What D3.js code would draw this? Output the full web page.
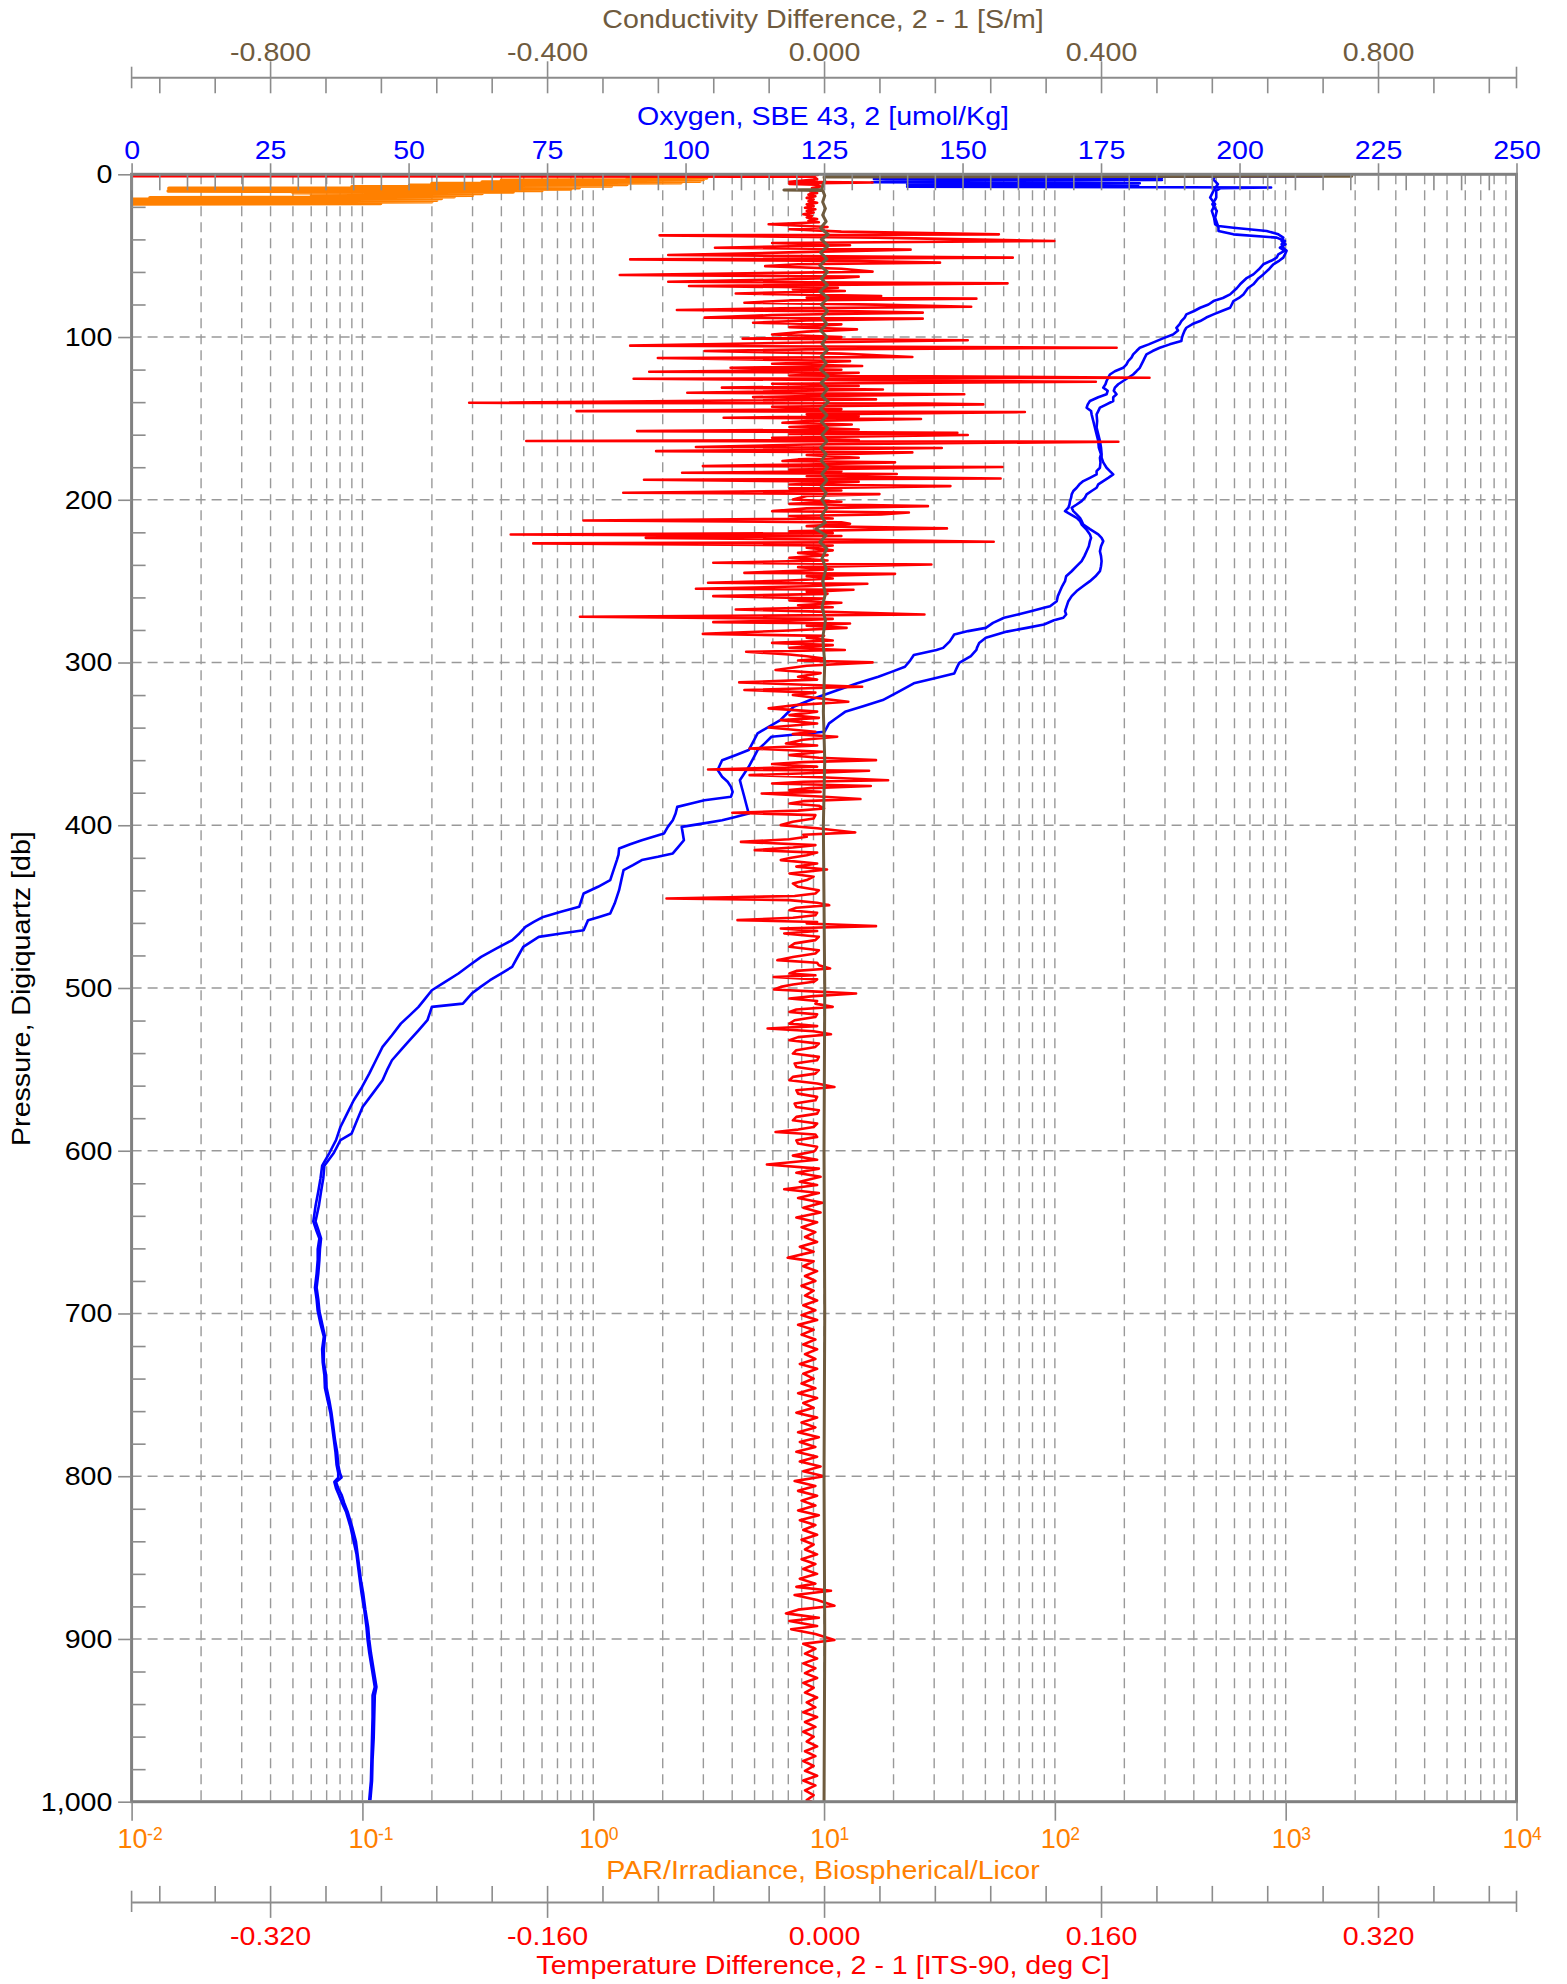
<!DOCTYPE html>
<html>
<head>
<meta charset="utf-8">
<script src="https://cdn.jsdelivr.net/npm/d3@7"></script>
<style>
  body { margin: 0; background: #fff; }
</style>
</head>
<body>
<div id="chart"></div>
<script>

// ---- tick labels / axis values
const presTicks = [0, 100, 200, 300, 400, 500, 600, 700, 800, 900, 1000];
const oxyTicks = [0, 25, 50, 75, 100, 125, 150, 175, 200, 225, 250];
const condTicks = [-0.8, -0.4, 0, 0.4, 0.8];
const tempTicks = [-0.32, -0.16, 0, 0.16, 0.32];
const parExp = [-2, -1, 0, 1, 2, 3, 4];

// ---- data: [pressure db, value]
const parData = [
  [0.3,3.0],[0.8,2.2],[1.3,3.1],[1.8,1.6],[2.3,3.1],[2.8,1.4],[3.2,3.0],[3.7,0.4],[4.2,2.9],[4.7,0.33],
  [5.2,2.4],[5.7,0.2],[6.2,1.4],[6.7,0.16],[7.2,1.2],[7.7,0.09],[8.2,0.87],[8.6,0.0145],[9.1,0.8],[9.5,0.03],
  [9.9,0.6],[10.3,0.0144],[10.8,0.45],[11.3,0.05],[11.8,0.33],[12.3,0.06],[12.8,0.3],[13.3,0.07],[13.8,0.25],
  [14.4,0.012],[14.9,0.22],[15.4,0.008],[15.9,0.21],[16.4,0.009],[16.9,0.2],[17.4,0.027],[17.9,0.12],[18.3,0.006]
];

const oxyA = [
  [0.8,195.8],[3,195.2],[6,196.1],[10.2,195.3],[14.3,194.7],[18.4,195.6],[22.5,195.0],[26.6,195.4],[30.7,195.6],
  [31.8,196.2],[32.8,198.9],[34.8,204.9],[36.9,207.0],[38.9,207.9],[41,207.6],[43,208.3],[45.1,207.3],[47,208.1],
  [49.2,207.0],[51.2,206.7],[53,205.8],[55.3,204.3],[58,203.6],[61.5,202.5],[64,201.2],[67.6,200.1],[70,199.5],
  [73.8,198.3],[76,197.0],[77.9,195.3],[80,194.4],[82,192.9],[84,191.8],[86.1,190.4],[88,190.1],[90.2,189.5],
  [92,189.2],[94.3,188.6],[96,188.9],[98.4,188.0],[100.5,186.4],[102.5,185.0],[104.5,183.6],[106.6,182.0],
  [108.6,181.4],[110.7,180.8],[112.7,180.5],[114.8,179.9],[116.8,179.6],[118.9,179.0],[121,177.5],[123,176.6],
  [125,176.3],[127,176.0],[129,175.8],[131.1,175.4],[133,176.2],[135.2,176.0],[137,174.5],[139.3,173.0],
  [141.4,172.6],[143.4,172.4],[145.5,173.2],[147.5,173.3],[151.6,173.6],[155.7,173.9],[159.8,174.2],[163.9,174.5],
  [168,174.6],[172,175.0],[174.2,174.8],[177,174.9],[180.3,174.8],[182.4,174.2],[184.4,174.2],[186.5,173.0],
  [188.5,171.8],[190.5,171.1],[192.6,170.6],[194.6,170.0],[196.7,169.7],[198.7,169.6],[200.8,169.4],[202.9,169.3],
  [204.9,169.1],[207,168.5],[209,169.5],[211.1,170.6],[213,171.2],[215.2,171.5],[218,172.3],[221.3,173.0],
  [223.4,173.2],[225.4,173.0],[228.5,172.8],[231.6,172.4],[234.6,172.0],[237.7,171.5],[240.8,170.6],[243.9,169.7],
  [247,168.7],[250,168.5],[253,168.0],[256.1,167.6],[259.2,167.2],[262.3,167.0],[265.4,165.8],[266.4,164.7],
  [268.4,162.5],[270.5,160.0],[272.5,157.5],[275.6,155.5],[278.7,154.2],[280.7,151.0],[282.8,148.5],[287,147.7],
  [291,146.5],[292.3,145.3],[295.4,141.2],[299,140.5],[302.6,139.6],[305.6,137.3],[308.7,134.8],[312.8,131.0],
  [316.9,127.5],[322,123.3],[327.2,119.5],[331.3,118.3],[335.4,117.1],[339.5,115.0],[343.6,113.0],[348.7,112.2],
  [353.8,111.4],[357,109.0],[360,106.6],[363,106.2],[366.1,105.8],[370.2,106.6],[373.3,107.6],[376.4,108.2],
  [379.5,108.5],[382.5,108.2],[384.6,103.4],[386.6,101.0],[388.7,98.5],[392.8,98.2],[396.9,97.7],[401,96.8],
  [405.1,96.1],[409.2,92.1],[411.7,90.0],[414.3,88.0],[418,87.9],[421.4,87.6],[427.6,87.0],[433.7,86.4],
  [437.8,84.2],[441.9,81.6],[446,81.2],[450.1,80.8],[453.2,77.5],[456.3,74.3],[459.4,72.6],[462.4,71.1],
  [466.5,70.0],[470.6,68.7],[475.8,65.8],[480.9,63.1],[486,61.0],[491.1,59.0],[496.2,56.6],[501.4,54.2],
  [506.5,53.0],[511.6,51.8],[516.8,50.2],[521.9,48.6],[529,47.0],[536.2,45.3],[544.4,44.1],[552.6,42.9],
  [560.8,41.6],[569,40.1],[577.2,38.9],[585.4,37.7],[593.5,36.9],[601.4,35.7],[609.2,34.4],[617,34.1],[625,33.7],
  [634,33.2],[643.4,32.8],[648.5,33.3],[653.9,33.9],[660.5,33.6],[667,33.6],[675.5,33.4],[684.1,33.1],[691.3,33.4],
  [698.5,33.6],[706.4,34.1],[714.2,34.7],[722,34.4],[730,34.5],[737.8,34.8],[745.7,34.9],[753.6,35.4],[761.5,35.9],
  [769.3,36.2],[777.2,36.5],[785.1,36.8],[793,37.0],[798,37.3],[800.8,37.3],[803.5,36.6],[807.4,36.9],[811.4,37.4],
  [816.6,38.0],[821.8,38.7],[831,39.5],[840.2,40.1],[848,40.6],[856,40.9],[864,41.2],[871.7,41.5],[882,42.0],
  [892.7,42.4],[900.6,42.6],[908.5,42.9],[919,43.4],[929.5,43.9],[934.7,43.5],[948,43.5],[961,43.4],[974,43.3],
  [987.2,43.2],[999,42.9]
];

const oxyB = [
  [0.3,186.0],[0.6,135.5],[1.2,215.0],[1.6,140.0],[2.3,186.0],[2.9,134.0],[3.5,186.0],[4.1,140.0],[4.9,133.6],
  [5.5,182.0],[6.2,140.0],[7.0,181.7],[7.6,140.0],[8.1,205.7],[8.6,196.5],[10,195.8],[14.3,195.8],[18.4,195.1],
  [22.5,195.9],[26.6,195.6],[30.7,196.0],[32.8,196.2],[34.8,196.2],[36.9,198.9],[38.9,206.7],[41,208.2],[43,207.6],
  [45.1,207.9],[47,208.5],[49.2,208.2],[51.2,207.9],[53,207.2],[55.3,206.1],[58,205.4],[61.5,204.3],[64,203.4],
  [67.6,202.5],[70,201.5],[73.8,200.7],[76,199.9],[77.9,198.9],[80,198.6],[82,198.3],[84,196.8],[86.1,195.3],
  [88,194.0],[90.2,192.9],[92,191.5],[94.3,190.4],[96,190.1],[98.4,189.8],[100.5,189.6],[102.5,189.5],[104.5,187.4],
  [106.6,185.6],[108.6,184.3],[110.7,183.2],[112.7,182.9],[114.8,182.6],[116.8,182.3],[118.9,182.0],[121,181.4],
  [123,180.8],[125,179.9],[127,179.0],[129,178.1],[131.1,177.5],[133,177.3],[135.2,177.8],[137,177.2],[139.3,177.2],
  [141.4,176.0],[143.4,174.8],[145.5,174.5],[147.5,174.2],[151.6,174.3],[155.7,174.2],[159.8,174.5],[163.9,174.8],
  [168,175.0],[172,175.1],[174.2,175.1],[177,175.4],[180.3,176.0],[182.4,176.6],[184.4,177.2],[186.5,176.3],
  [188.5,175.4],[190.5,174.5],[192.6,174.2],[194.6,173.3],[196.7,172.4],[198.7,172.1],[200.8,171.5],[202.9,170.6],
  [204.9,169.7],[207,170.0],[209,170.6],[211.1,171.2],[213,171.5],[215.2,171.8],[218,173.0],[221.3,174.5],
  [223.4,175.1],[225.4,175.4],[228.5,175.0],[231.6,174.8],[234.6,175.0],[237.7,175.1],[240.8,175.0],[243.9,174.8],
  [247,174.0],[250,173.0],[253,171.8],[256.1,170.6],[259.2,169.7],[262.3,169.1],[265.4,168.8],[268.4,168.5],
  [270.5,168.7],[272.5,168.2],[274,166.5],[276.6,164.7],[278.7,161.6],[281,158.0],[284.8,154.2],[288,153.0],
  [291,152.6],[292.3,152.5],[296,151.5],[300.2,149.4],[303,149.0],[306.7,148.5],[309.7,145.0],[312.8,141.2],
  [318,138.4],[323.1,135.6],[326.7,132.2],[330.3,128.8],[333.9,127.3],[337.4,125.9],[340,125.5],[342.5,125.1],
  [345.6,115.5],[349.7,114.3],[353.8,113.0],[359,112.2],[364.1,111.4],[368.2,110.6],[372.3,109.8],[377.4,110.2],
  [382.5,110.6],[387.7,111.0],[392.8,111.4],[394.9,109.0],[396.9,106.6],[399,103.0],[401,99.3],[405.1,99.5],
  [409.2,99.7],[413.3,98.7],[417.3,97.7],[419.4,95.0],[421.4,92.1],[424.5,90.5],[427.6,88.8],[433.7,88.4],
  [439.9,88.0],[444,87.6],[448.1,87.2],[451.2,86.8],[454.2,86.4],[456.3,84.4],[458.3,82.4],[461.4,82.0],
  [464.5,81.6],[466.5,77.5],[468.6,73.5],[471.6,72.1],[474.7,70.7],[480.8,69.7],[487,68.7],[491.1,66.7],
  [495.2,64.7],[499.3,63.0],[503.4,61.4],[506.5,60.6],[509.6,59.8],[511.6,54.2],[515.7,53.8],[519.8,53.4],
  [526,51.8],[532.1,50.2],[538.2,48.6],[544.4,47.0],[550.5,46.1],[556.7,45.3],[564.9,43.5],[573.1,41.7],
  [581.3,40.7],[589.5,39.7],[593.5,37.7],[601.4,36.5],[609.2,34.8],[617,34.6],[625,34.2],[634,33.8],[643.4,33.2],
  [648.5,33.7],[653.9,34.2],[660.5,34.0],[667,33.9],[675.5,33.7],[684.1,33.4],[691.3,33.7],[698.5,33.9],
  [706.4,34.4],[714.2,34.9],[722,34.7],[730,34.7],[737.8,35.1],[745.7,35.2],[753.6,35.7],[761.5,36.1],[769.3,36.4],
  [777.2,36.7],[785.1,37.1],[793,37.3],[798,37.6],[800.8,37.9],[803.5,36.9],[807.4,37.3],[811.4,37.9],[816.6,38.4],
  [821.8,39.0],[831,39.8],[840.2,40.5],[848,40.8],[856,41.1],[864,41.4],[871.7,41.8],[882,42.2],[892.7,42.7],
  [900.6,42.9],[908.5,43.2],[919,43.7],[929.5,44.2],[934.7,43.9],[948,43.8],[961,43.7],[974,43.5],[987.2,43.4],
  [999,43.1]
];

const tempDiff = [
  [0.3,-0.003],[0.6,-0.005],[1.1,-0.42],[1.5,-0.006],[3,-0.004],[4.6,-0.02],[5.0,0.028],[5.4,-0.004],[6.0,-0.02],
  [6.4,-0.005],[7.5,-0.002],[8.5,-0.007],[9.5,-0.003],[10.5,-0.008],[11.5,-0.004],[12.5,-0.009],[13.5,-0.005],
  [14.5,-0.01],[15.5,-0.006],[16.5,-0.009],[17.5,-0.004],[18.5,-0.01],[19.5,-0.006],[20.5,-0.011],[21.5,-0.005],
  [22.5,-0.01],[23.5,-0.006],[24.5,-0.012],[25.5,-0.007],[26.5,-0.01],[27.5,-0.004],[28.5,-0.009],[29.5,-0.003],
  [30.7,-0.032],[32.4,0.002],[33.8,-0.02],[35.2,0.01],[36.9,0.101],[37.5,-0.095],[38.9,0.03],[41.0,0.133],
  [42.2,-0.03],[43.6,0.015],[45.1,-0.063],[46.3,0.05],[48.0,-0.02],[49.6,-0.09],[51.2,0.109],[52.3,-0.112],
  [53.3,0.02],[54.3,0.067],[55.3,-0.015],[56.4,-0.034],[58.0,0.01],[59.8,0.028],[61.9,-0.118],[62.9,0.02],
  [63.5,0.011],[64.8,-0.03],[66.0,-0.09],[67.0,0.106],[68.6,-0.078],[69.7,0.008],[70.7,-0.018],[71.7,0.012],
  [73.2,-0.051],[74.8,0.033],[75.8,-0.01],[76.4,0.088],[77.5,-0.02],[78.9,-0.046],[80.1,0.03],[81.4,0.085],
  [82.4,-0.025],[83.4,-0.085],[84.2,0.02],[85.0,0.057],[86.5,-0.03],[88.1,-0.069],[88.7,0.057],[89.8,-0.01],
  [91.2,-0.041],[92.2,0.01],[93.9,-0.02],[95.3,0.019],[96.7,-0.01],[98.4,-0.03],[100.0,0.01],[101.0,-0.047],
  [102.0,0.083],[103.5,-0.02],[105.3,-0.112],[106.6,0.169],[107.6,-0.01],[108.6,-0.069],[110.2,0.01],[112.3,0.051],
  [112.9,-0.096],[114.8,0.015],[116.4,-0.03],[117.8,0.022],[118.9,-0.054],[120.1,0.01],[121.3,-0.101],[121.9,0.02],
  [123.6,-0.02],[125.0,0.188],[125.6,-0.11],[126.6,0.03],[127.5,0.157],[128.7,-0.03],[130.1,0.02],[131.1,-0.059],
  [132.2,0.034],[133.2,-0.02],[134.2,-0.079],[135.2,0.081],[136.3,-0.01],[136.9,-0.041],[138.3,0.03],[140.4,-0.205],
  [140.8,0.059],[141.4,0.092],[142.8,-0.03],[144.3,0.01],[145.5,-0.143],[146.1,0.116],[147.5,-0.01],[148.6,0.02],
  [149.6,-0.058],[150.4,0.056],[151.6,-0.01],[152.7,-0.024],[153.7,0.016],[155.3,-0.02],[156.8,0.02],[157.8,-0.108],
  [158.8,0.077],[159.6,-0.02],[160.2,0.083],[161.9,-0.03],[163.3,0.02],[163.9,-0.172],[164.3,0.17],[166.0,-0.01],
  [167.6,-0.074],[168.2,0.068],[169.3,-0.02],[170.1,-0.097],[170.9,0.051],[172.5,-0.01],[174.2,0.02],[175.2,-0.015],
  [176.2,-0.024],[177.0,0.041],[178.3,-0.01],[179.3,-0.07],[179.9,0.103],[181.4,-0.02],[182.4,0.01],[183.4,-0.082],
  [184.2,0.042],[185.5,-0.01],[186.9,0.102],[187.7,-0.104],[188.9,0.02],[190.6,-0.02],[191.6,0.073],[193.0,-0.02],
  [194.3,0.01],[195.7,-0.116],[196.5,0.032],[197.7,-0.01],[199.8,-0.018],[201.2,0.01],[202.5,-0.02],[203.9,0.06],
  [205.3,-0.01],[207.0,-0.03],[207.8,0.049],[209.0,0.033],[210.0,-0.02],[211.5,0.005],[212.7,-0.139],[213.9,0.01],
  [214.8,0.015],[216.2,-0.01],[217.6,0.071],[219.3,-0.02],[220.5,0.005],[221.3,-0.181],[222.3,0.01],[223.4,-0.103],
  [224.6,0.02],[225.8,0.098],[226.8,-0.168],[228.1,0.005],[229.5,-0.01],[231.1,0.005],[232.6,-0.015],[234.0,0.002],
  [235.7,-0.02],[237.3,0.002],[238.7,-0.064],[239.8,0.062],[241.4,-0.015],[242.8,0.005],[244.9,-0.046],[245.5,0.041],
  [246.9,-0.01],[248.4,0.005],[249.6,-0.02],[251.0,-0.067],[251.6,0.025],[253.1,-0.01],[254.7,-0.074],[255.3,0.017],
  [256.6,-0.01],[257.8,0.002],[259.2,-0.064],[260.7,0.0],[261.9,-0.02],[263.3,0.01],[264.8,-0.015],[266.0,0.005],
  [267.4,-0.051],[268.9,0.002],[270.5,0.058],[271.9,-0.141],[273.2,0.005],[274.2,-0.02],[275.2,-0.064],[276.0,0.015],
  [277.3,-0.01],[278.7,0.013],[280.3,-0.02],[282.4,-0.07],[283.6,0.0],[284.8,-0.01],[286.5,0.005],[287.9,-0.03],
  [289.3,0.005],[291.0,-0.02],[292.3,0.012],[293.4,-0.045],[295.1,-0.02],[296.1,-0.01],[297.5,0.0],[298.8,-0.015],
  [299.9,0.028],[302,-0.01],[304.6,-0.028],[306.5,-0.002],[308.7,-0.015],[310.5,-0.004],[312.2,-0.049],
  [314.9,0.022],[316.9,-0.046],[318.5,-0.005],[320.0,-0.018],[322,-0.003],[324.1,0.014],[326,-0.015],[328.2,-0.032],
  [330.2,-0.004],[332.3,-0.02],[334,-0.003],[335.4,-0.025],[337.5,-0.004],[339.9,-0.032],[342.5,-0.005],
  [344,-0.018],[345.6,0.0076],[347.5,-0.012],[349.7,-0.022],[351,-0.004],[352.8,-0.043],[354.8,-0.001],[356.9,-0.02],
  [358.5,-0.003],[360.0,0.03],[361.2,-0.012],[362.4,-0.03],[364,-0.004],[365.7,-0.067],[366.5,0.026],[368,-0.01],
  [369.2,-0.043],[370.5,-0.002],[372.3,0.037],[373.3,-0.012],[374.3,-0.03],[375.9,0.027],[377.2,-0.008],
  [378.4,-0.02],[379.5,-0.002],[380.5,-0.036],[382.5,0.0],[383.9,0.021],[385.2,-0.012],[386.6,-0.02],[388,-0.003],
  [389.7,0.0],[391,-0.015],[392.3,-0.053],[393.8,-0.005],[395.8,-0.006],[397.8,-0.018],[399.9,-0.025],
  [401.8,-0.004],[404.4,0.018],[405.8,-0.012],[407.1,-0.01],[408.6,-0.02],[410.2,-0.048],[412.2,-0.005],
  [413.7,-0.018],[415.3,-0.04],[416.8,-0.004],[418.4,-0.01],[420,-0.019],[421.4,-0.025],[423.5,-0.004],
  [425.4,-0.016],[427.2,0.0017],[429.6,-0.02],[431.6,-0.006],[433.7,-0.01],[435.8,-0.018],[437.8,-0.015],
  [439.9,-0.003],[441.9,-0.005],[443.5,-0.017],[445.0,-0.091],[446.0,-0.02],[447.6,-0.004],[449.1,0.003],
  [450.7,-0.016],[452.2,-0.02],[453.8,-0.004],[455.3,-0.005],[456.8,-0.018],[458.3,-0.05],[459.4,-0.004],
  [460.4,-0.01],[462.0,0.03],[463.4,-0.025],[465,-0.004],[466.5,-0.023],[468.5,-0.003],[470.6,-0.005],
  [472.6,-0.017],[474.7,-0.02],[476.8,-0.003],[478.8,-0.005],[480.9,-0.018],[482.9,-0.027],[484.5,-0.004],
  [486.0,-0.003],[488.0,0.0035],[489.5,-0.016],[491.1,-0.02],[492.2,-0.005],[493.2,-0.029],[494.7,-0.004],
  [496.2,-0.006],[497.8,-0.018],[499.3,-0.025],[500.9,-0.029],[502.2,-0.004],[503.4,0.0185],[505,-0.006],
  [506.5,-0.02],[508,-0.004],[509.6,-0.005],[511.6,0.005],[513.2,-0.016],[514.7,-0.02],[516.2,-0.004],
  [517.8,-0.005],[519.8,-0.017],[521.9,-0.02],[523.4,-0.004],[524.9,-0.0326],[526.6,-0.006],[528.4,0.004],
  [530.2,-0.015],[532.1,-0.02],[534.2,-0.003],[536.2,-0.005],[538.2,-0.016],[540.3,-0.018],[542.3,-0.003],
  [544.4,-0.004],[546.4,-0.017],[548.5,-0.016],[550.5,-0.003],[552.6,-0.005],[554.6,-0.018],[556.7,-0.02],
  [558.7,-0.004],[560.8,0.006],[562.8,-0.016],[564.9,-0.015],[566.9,-0.004],[569.0,-0.005],[571,-0.017],
  [573.1,-0.016],[575.1,-0.003],[577.2,-0.004],[579.2,-0.016],[581.3,-0.018],[583.3,-0.004],[585.4,-0.006],
  [587,-0.015],[588.5,-0.028],[590,-0.005],[591.5,-0.004],[593.6,-0.016],[595.6,-0.015],[597.6,-0.004],
  [599.7,-0.005],[600.5,-0.006],[603,-0.018],[605.5,-0.004],[608.5,-0.033],[611,-0.003],[613.5,-0.016],
  [616,-0.002],[619,-0.014],[621,-0.004],[623.7,-0.023],[626,-0.003],[629,-0.015],[632,-0.001],[635,-0.012],
  [638,-0.002],[641,-0.016],[644,-0.004],[647,-0.013],[650,-0.005],[653,-0.011],[656,-0.004],[659,-0.014],
  [662,-0.006],[665.7,-0.021],[668,-0.006],[671,-0.012],[674,-0.004],[677,-0.011],[680,-0.005],[683,-0.013],
  [686,-0.006],[689,-0.011],[692,-0.004],[695,-0.012],[698,-0.005],[701,-0.013],[704,-0.004],[707,-0.015],
  [710,-0.006],[713,-0.013],[716,-0.005],[719,-0.012],[722,-0.004],[725,-0.011],[728,-0.005],[731,-0.014],
  [734,-0.004],[737,-0.012],[740,-0.006],[743,-0.013],[746,-0.005],[749,-0.015],[752,-0.004],[755,-0.012],
  [758,-0.006],[761,-0.016],[764,-0.004],[767,-0.013],[770,-0.005],[773,-0.015],[776,-0.003],[779,-0.014],
  [782,-0.005],[785,-0.016],[788,-0.004],[791,-0.014],[794,-0.002],[797,-0.012],[800,0.0],[803,-0.017],
  [806,-0.005],[809,-0.015],[812,-0.004],[815,-0.013],[818,-0.005],[821,-0.015],[824,-0.003],[827,-0.014],
  [830,-0.005],[833,-0.012],[836,-0.004],[839,-0.013],[842,-0.006],[845,-0.011],[848,-0.004],[851,-0.013],
  [854,-0.005],[857,-0.012],[860,-0.004],[863,-0.014],[866,-0.005],[868,-0.016],[870.4,0.004],[873,-0.017],
  [876,-0.004],[879.6,0.006],[882,-0.015],[884.3,-0.022],[887,-0.003],[889,-0.02],[892,-0.004],[894,-0.019],
  [897,-0.005],[900.6,0.006],[903,-0.012],[906,-0.005],[909,-0.011],[912,-0.004],[915,-0.012],[918,-0.005],
  [921,-0.011],[924,-0.004],[927,-0.012],[930,-0.006],[933,-0.011],[936,-0.004],[939,-0.01],[942,-0.005],
  [945,-0.012],[948,-0.004],[951,-0.011],[954,-0.005],[957,-0.012],[960,-0.006],[963,-0.01],[966,-0.004],
  [969,-0.011],[972,-0.005],[975,-0.012],[978,-0.006],[981,-0.011],[984,-0.004],[987,-0.012],[990,-0.005],
  [993,-0.011],[996,-0.006],[999,-0.01],[1000,-0.007]
];

const condDiff = [
  [0.2,0.0],[1.2,0.762],[1.6,0.0],[4,0.001],[7,-0.002],[9.3,-0.003],[9.6,-0.058],[9.9,-0.002],[13,0.001],
  [17,-0.002],[21,0.002],[25,-0.002],[29,0.003],[33,-0.005],[37,0.006],[40,-0.004],[44,0.006],[48,-0.005],
  [52,0.004],[56,-0.006],[60,0.005],[64,-0.004],[68,0.005],[72,-0.006],[76,0.006],[80,-0.004],[84,0.005],
  [88,-0.003],[92,0.004],[96,-0.005],[100,0.004],[104,-0.003],[108,0.005],[112,-0.004],[116,0.003],[120,-0.005],
  [124,0.006],[128,-0.004],[132,0.005],[136,-0.003],[140,0.006],[144,-0.005],[148,0.004],[152,-0.004],[156,0.005],
  [160,-0.003],[164,0.004],[168,-0.005],[172,0.003],[176,-0.004],[180,0.005],[184,-0.003],[188,0.004],[192,-0.004],
  [196,0.003],[200,-0.003],[205,0.004],[210,-0.004],[214,0.002],[218,-0.012],[222,0.003],[226,-0.006],[230,0.004],
  [236,-0.003],[242,0.003],[250,-0.002],[258,0.002],[266,-0.003],[274,0.002],[285,-0.002],[300,0.001],[330,-0.001],
  [360,0.001],[400,-0.001],[450,0.0],[500,0.001],[600,0.0],[700,0.001],[800,0.0],[900,0.001],[1000,0.0]
];

// ---- layout
let W = 1567, H = 1984;
let pL = 131.6, pR = 1516.5, pT = 174.3, pB = 1801.7;
let FONT = "'Liberation Sans', Arial, sans-serif";
let SX = 1.1;
let GRAY = "#8c8c8c";
let BROWN = "#6f5b3e", BLUE = "#0000ff", RED = "#ff0000", ORANGE = "#ff8000";

// plain hyphen minus, as in the original labels
let fmt3 = d => (Math.abs(d) < 1e-9 ? 0 : d).toFixed(3);

let svg = d3.select('#chart')
  .append('svg')
    .attr('width', W)
    .attr('height', H)
    .attr('font-family', FONT)
;

let y = d3.scaleLinear().domain([0, 1000]).range([pT, pB]);
let xOxy = d3.scaleLinear().domain([0, 250]).range([pL, pR]);
let xCond = d3.scaleLinear().domain([-1, 1]).range([pL, pR]);
let xTemp = d3.scaleLinear().domain([-0.4, 0.4]).range([pL, pR]);
let xPar = d3.scaleLog().domain([0.01, 10000]).range([pL, pR]);

function styleAxis(g, color) {
  g.attr('font-family', FONT).attr('font-size', 26);
  g.select('.domain').attr('stroke', GRAY).attr('stroke-width', 2);
  g.selectAll('.tick line').attr('stroke', GRAY).attr('stroke-width', 1.6);
  g.selectAll('.tick text').attr('fill', color).attr('transform', 'scale(' + SX + ',1)');
}

function title(str, x, yy, color, rot) {
  svg.append('text')
    .attr('transform', 'translate(' + x + ',' + yy + ')' + (rot ? ' rotate(-90)' : '') + ' scale(' + SX + ',1)')
    .attr('text-anchor', 'middle')
    .attr('font-size', 26)
    .attr('fill', color)
    .text(str);
}

// ---- grid
let gridX = [];
for (let e = -2; e < 4; e++) {
  for (let k = 1; k < 10; k++) {
    if (e == -2 && k == 1) continue;
    gridX.push(k * Math.pow(10, e));
  }
}
svg.append('g').selectAll('line').data(gridX).enter()
  .append('line')
    .attr('x1', d => xPar(d)).attr('x2', d => xPar(d))
    .attr('y1', pT).attr('y2', pB)
    .attr('stroke', '#999').attr('stroke-width', 1.4)
    .attr('stroke-dasharray', '10,6');

svg.append('g').selectAll('line').data(presTicks.slice(1, -1)).enter()
  .append('line')
    .attr('x1', pL).attr('x2', pR)
    .attr('y1', d => y(d)).attr('y2', d => y(d))
    .attr('stroke', '#999').attr('stroke-width', 1.4)
    .attr('stroke-dasharray', '10,6');

// ---- data lines
svg.append('clipPath').attr('id', 'plotclip')
  .append('rect').attr('x', pL).attr('y', pT).attr('width', pR - pL).attr('height', pB - pT);

let plot = svg.append('g').attr('clip-path', 'url(#plotclip)');

function drawLine(data, xs, color, w) {
  let line = d3.line().x(d => xs(d[1])).y(d => y(d[0]));
  plot.append('path')
    .datum(data)
    .attr('d', line)
    .attr('fill', 'none')
    .attr('stroke', color)
    .attr('stroke-width', w)
    .attr('stroke-linejoin', 'round');
}

drawLine(parData, xPar, ORANGE, 3.5);
drawLine(oxyA, xOxy, BLUE, 2.6);
drawLine(oxyB, xOxy, BLUE, 2.6);
drawLine(tempDiff, xTemp, RED, 2.6);
drawLine(condDiff, xCond, BROWN, 3);

// ---- frame
svg.append('rect')
  .attr('x', pL).attr('y', pT)
  .attr('width', pR - pL).attr('height', pB - pT)
  .attr('fill', 'none').attr('stroke', '#808080').attr('stroke-width', 3);

// ---- pressure axis (left)
svg.append('g').attr('transform', 'translate(' + pL + ',0)')
  .call(d3.axisLeft(y).tickValues(presTicks).tickSize(13.5).tickPadding(4).tickFormat(d3.format(',')))
  .call(g => { styleAxis(g, '#000'); g.select('.domain').remove(); });

svg.append('g').attr('transform', 'translate(' + pL + ',0)')
  .call(d3.axisRight(y).tickValues(d3.range(20, 1000, 20).filter(d => d % 100 != 0)).tickSize(14).tickFormat(''))
  .call(g => { styleAxis(g, '#000'); g.select('.domain').remove(); });

// ---- oxygen axis (top of plot)
svg.append('g').attr('transform', 'translate(0,' + pT + ')')
  .call(d3.axisTop(xOxy).tickValues(oxyTicks).tickSize(11).tickPadding(4.3).tickFormat(d3.format('d')))
  .call(g => { styleAxis(g, BLUE); g.select('.domain').remove(); });

svg.append('g').attr('transform', 'translate(0,' + pT + ')')
  .call(d3.axisBottom(xOxy).tickValues(d3.range(0, 251, 5)).tickSize(16).tickFormat(''))
  .call(g => { styleAxis(g, BLUE); g.select('.domain').remove(); });

// ---- conductivity axis (very top)
let condY = 77.3;
svg.append('g').attr('transform', 'translate(0,' + condY + ')')
  .call(d3.axisTop(xCond).tickValues(condTicks).tickSize(16).tickSizeOuter(0).tickPadding(0.6).tickFormat(fmt3))
  .call(g => styleAxis(g, BROWN));

svg.append('g').attr('transform', 'translate(0,' + condY + ')')
  .call(d3.axisBottom(xCond).tickValues(d3.range(-12, 13).map(i => i * 0.08)).tickSize(16).tickFormat(''))
  .call(g => { styleAxis(g, BROWN); g.select('.domain').remove(); });

// ---- temperature axis (very bottom)
let tempY = 1901.9;
svg.append('g').attr('transform', 'translate(0,' + tempY + ')')
  .call(d3.axisBottom(xTemp).tickValues(tempTicks).tickSize(16).tickSizeOuter(0).tickPadding(8.6).tickFormat(fmt3))
  .call(g => styleAxis(g, RED));

svg.append('g').attr('transform', 'translate(0,' + tempY + ')')
  .call(d3.axisTop(xTemp).tickValues(d3.range(-12, 13).map(i => i * 0.032)).tickSize(16).tickFormat(''))
  .call(g => { styleAxis(g, RED); g.select('.domain').remove(); });

// end ticks on the two floating axes
[[condY, 66.7, 88.3], [tempY, 1890.7, 1912]].forEach(function(a) {
  [pL, pR].forEach(function(xx) {
    svg.append('line')
      .attr('x1', xx).attr('x2', xx).attr('y1', a[1]).attr('y2', a[2])
      .attr('stroke', GRAY).attr('stroke-width', 1.6);
  });
});

// ---- PAR axis (bottom of plot, log)
svg.append('g').attr('transform', 'translate(0,' + pB + ')')
  .call(d3.axisBottom(xPar).tickValues(parExp.map(e => Math.pow(10, e))).tickSize(19).tickFormat(''))
  .call(g => { styleAxis(g, ORANGE); g.select('.domain').remove(); });

let parLab = svg.append('g').selectAll('.parlab').data(parExp).enter()
  .append('g')
    .attr('class', 'parlab')
    .attr('transform', d => 'translate(' + xPar(Math.pow(10, d)) + ',0)');
parLab.append('text')
  .attr('x', 1).attr('y', 1847.5)
  .attr('text-anchor', 'middle')
  .attr('font-size', 27)
  .attr('fill', ORANGE)
  .text('10');
parLab.append('text')
  .attr('x', 15.5).attr('y', 1840)
  .attr('font-size', 17.5)
  .attr('fill', ORANGE)
  .text(d => String(d));

// ---- axis titles
title('Conductivity Difference, 2 - 1 [S/m]', 823, 28.3, BROWN);
title('Oxygen, SBE 43, 2 [umol/Kg]', 823, 125, BLUE);
title('PAR/Irradiance, Biospherical/Licor', 823, 1878.8, ORANGE);
title('Temperature Difference, 2 - 1 [ITS-90, deg C]', 823, 1974, RED);
title('Pressure, Digiquartz [db]', 30, 988.6, '#000', true);

</script>
</body>
</html>
